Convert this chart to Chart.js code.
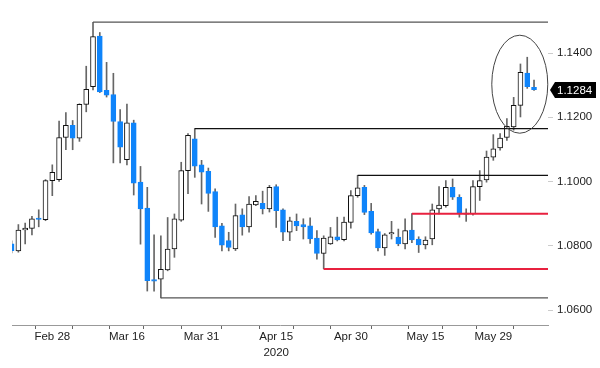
<!DOCTYPE html>
<html>
<head>
<meta charset="utf-8">
<script src="https://cdn.jsdelivr.net/npm/chart.js@4.4.0/dist/chart.umd.min.js"></script>
<style>
html, body { margin: 0; padding: 0; background: #fff; }
#wrap { width: 600px; height: 368px; }
</style>
</head>
<body>
<div id="wrap"><canvas id="fxChart"></canvas></div>
<script>
var dates = ['Feb 20','Feb 21','Feb 24','Feb 25','Feb 26','Feb 27','Feb 28',
  'Mar 2','Mar 3','Mar 4','Mar 5','Mar 6','Mar 9','Mar 10','Mar 11','Mar 12','Mar 13',
  'Mar 16','Mar 17','Mar 18','Mar 19','Mar 20','Mar 23','Mar 24','Mar 25','Mar 26','Mar 27',
  'Mar 30','Mar 31','Apr 1','Apr 2','Apr 3','Apr 6','Apr 7','Apr 8','Apr 9','Apr 10',
  'Apr 13','Apr 14','Apr 15','Apr 16','Apr 17','Apr 20','Apr 21','Apr 22','Apr 23','Apr 24',
  'Apr 27','Apr 28','Apr 29','Apr 30','May 1','May 4','May 5','May 6','May 7','May 8',
  'May 11','May 12','May 13','May 14','May 15','May 18','May 19','May 20','May 21','May 22',
  'May 25','May 26','May 27','May 28','May 29','Jun 1','Jun 2','Jun 3','Jun 4','Jun 5','Jun 8'];

var opens = [1.0806,1.0784,1.0849,1.0854,1.0886,1.0881,1.1003,
  1.1006,1.1137,1.1175,1.1135,1.1240,1.1295,1.1453,1.1284,1.1271,1.1187,
  1.1068,1.1183,1.0998,1.0917,1.0695,1.0696,1.0725,1.0790,1.0880,1.1034,
  1.1133,1.1052,1.1032,1.0969,1.0862,1.0816,1.0790,1.0896,1.0859,1.0927,
  1.0932,1.0915,1.0984,1.0912,1.0842,1.0876,1.0866,1.0862,1.0824,1.0776,
  1.0806,1.0828,1.0819,1.0873,1.0956,1.0982,1.0907,1.0844,1.0793,1.0837,
  1.0827,1.0806,1.0849,1.0821,1.0803,1.0821,1.0915,1.0925,1.0982,1.0951,
  1.0898,1.0899,1.0984,1.1005,1.1076,1.1105,1.1137,1.1170,1.1237,1.1338,1.1293];

var highs = [1.0815,1.0866,1.0871,1.0892,1.0912,1.1006,1.1052,
  1.1188,1.1215,1.1190,1.1242,1.1359,1.1496,1.1464,1.1371,1.1337,1.1224,
  1.1241,1.1191,1.1047,1.0982,1.0834,1.0831,1.0888,1.0899,1.1060,1.1149,
  1.1165,1.1066,1.1042,1.0977,1.0870,1.0842,1.0930,1.0915,1.0953,1.0956,
  1.0970,1.0988,1.0990,1.0915,1.0889,1.0899,1.0884,1.0887,1.0847,1.0831,
  1.0857,1.0889,1.0889,1.0972,1.1019,1.0988,1.0932,1.0852,1.0838,1.0876,
  1.0852,1.0884,1.0900,1.0828,1.0828,1.0930,1.0984,1.1003,1.1008,1.0959,
  1.0915,1.1003,1.1034,1.1095,1.1146,1.1149,1.1196,1.1262,1.1366,1.1387,1.1316];

var lows = [1.0778,1.0780,1.0806,1.0834,1.0859,1.0878,1.0956,
  1.1000,1.1099,1.1099,1.1125,1.1217,1.1285,1.1277,1.1263,1.1058,1.1058,
  1.1052,1.0958,1.0805,1.0659,1.0659,1.0638,1.0722,1.0764,1.0876,1.0962,
  1.1013,1.0930,1.0907,1.0826,1.0784,1.0784,1.0785,1.0833,1.0842,1.0925,
  1.0899,1.0905,1.0857,1.0816,1.0816,1.0847,1.0821,1.0807,1.0758,1.0728,
  1.0804,1.0815,1.0815,1.0855,1.0951,1.0897,1.0836,1.0784,1.0770,1.0821,
  1.0800,1.0790,1.0810,1.0779,1.0790,1.0803,1.0899,1.0920,1.0944,1.0889,
  1.0876,1.0895,1.0941,1.0998,1.1066,1.1098,1.1128,1.1160,1.1201,1.1290,1.1284];

var closes = [1.0785,1.0849,1.0855,1.0884,1.0882,1.1003,1.1029,
  1.1137,1.1175,1.1135,1.1240,1.1287,1.1451,1.1279,1.1269,1.1187,1.1107,
  1.1183,1.0995,1.0915,1.0691,1.0690,1.0727,1.0790,1.0884,1.1034,1.1144,
  1.1048,1.1029,1.0963,1.0859,1.0802,1.0795,1.0894,1.0859,1.0930,1.0938,
  1.0915,1.0982,1.0909,1.0842,1.0878,1.0862,1.0859,1.0821,1.0776,1.0824,
  1.0828,1.0818,1.0874,1.0956,1.0980,1.0904,1.0840,1.0793,1.0834,1.0841,
  1.0806,1.0847,1.0818,1.0803,1.0818,1.0912,1.0927,1.0982,1.0951,1.0899,
  1.0902,1.0984,1.1003,1.1076,1.1102,1.1135,1.1172,1.1237,1.1340,1.1295,1.1286];

var yTicks = [1.06, 1.08, 1.10, 1.12, 1.14];
var labelIdx = [6, 17, 28, 39, 50, 61, 71];
var minorIdx = [1, 12, 22, 34, 44, 56, 66, 77];
var yearIdx = 39, yearLabel = '2020';
var lastPrice = 1.1284;

// levels: [start index, price]
var blackLevels = [[12, 1.1496], [27, 1.1165], [51, 1.1019], [22, 1.0638]];
var redLevels = [[59, 1.0900], [46, 1.0728]];

var xMin = 0.06, xMax = 79.06;
var blue = '#0f84fa';
var fontFam = "'Liberation Sans', Arial, sans-serif";

var wickData = dates.map(function (d, i) { return { x: i, y: [lows[i], highs[i]] }; });
var bodyData = dates.map(function (d, i) { return { x: i, y: [opens[i], closes[i]] }; });
var isDown = dates.map(function (d, i) { return closes[i] < opens[i]; });

function levelSet(lv, color, w) {
  return {
    type: 'line',
    data: [{ x: lv[0], y: lv[1] }, { x: xMax, y: lv[1] }],
    borderColor: color,
    borderWidth: w,
    pointRadius: 0,
    order: 0
  };
}

var datasets = [];
blackLevels.forEach(function (lv, k) {
  datasets.push(levelSet(lv, k == 0 || k == 3 ? '#555' : '#111', 1.3));
});
redLevels.forEach(function (lv) {
  datasets.push(levelSet(lv, '#e8213f', 2));
});
datasets.push({
  type: 'bar',
  data: bodyData,
  grouped: false,
  barThickness: 5,
  minBarLength: 1,
  backgroundColor: isDown.map(function (d) { return d ? blue : '#fff'; }),
  borderColor: isDown.map(function (d) { return d ? blue : '#111'; }),
  borderWidth: 1,
  borderSkipped: false,
  order: 1
});
datasets.push({
  type: 'bar',
  data: wickData,
  grouped: false,
  barThickness: 1,
  backgroundColor: '#666',
  order: 2
});

// current price tag + circled area
var overlay = {
  id: 'overlay',
  afterDatasetsDraw: function (chart) {
    var ctx = chart.ctx, xs = chart.scales.x, ys = chart.scales.y;
    ctx.save();
    ctx.strokeStyle = '#444';
    ctx.lineWidth = 1;
    ctx.beginPath();
    ctx.ellipse(xs.getPixelForValue(74.9), ys.getPixelForValue(1.1303), 28, 49, 0, 0, Math.PI * 2);
    ctx.stroke();
    ctx.restore();
  },
  afterDraw: function (chart) {
    var ctx = chart.ctx, ys = chart.scales.y;
    var y = Math.round(ys.getPixelForValue(lastPrice));
    var x0 = chart.chartArea.right + 2;
    ctx.save();
    ctx.fillStyle = '#000';
    ctx.beginPath();
    ctx.moveTo(x0, y);
    ctx.lineTo(x0 + 5, y - 8);
    ctx.lineTo(596, y - 8);
    ctx.lineTo(596, y + 8);
    ctx.lineTo(x0 + 5, y + 8);
    ctx.closePath();
    ctx.fill();
    ctx.fillStyle = '#fff';
    ctx.font = '11.5px ' + fontFam;
    ctx.textBaseline = 'middle';
    ctx.fillText(lastPrice.toFixed(4), 557, y + 1);
    ctx.restore();
  }
};

var chart = new Chart(document.getElementById('fxChart'), {
  type: 'bar',
  data: { datasets: datasets },
  options: {
    responsive: true,
    maintainAspectRatio: false,
    animation: false,
    layout: { padding: { left: 12, top: 12, right: 0, bottom: 0 } },
    plugins: { legend: { display: false }, tooltip: { enabled: false } },
    scales: {
      x: {
        type: 'linear',
        min: xMin,
        max: xMax,
        offset: false,
        afterBuildTicks: function (s) {
          s.ticks = labelIdx.concat(minorIdx).sort(function (a, b) { return a - b; })
            .map(function (v) { return { value: v }; });
        },
        afterFit: function (s) { s.height = 43; },
        ticks: {
          autoSkip: false,
          maxRotation: 0,
          padding: -1,
          color: '#222',
          font: { family: fontFam, size: 11.5, lineHeight: 1.45 },
          callback: function (v) {
            if (labelIdx.indexOf(v) < 0) return '';
            return v == yearIdx ? [dates[v], yearLabel] : dates[v];
          }
        },
        grid: { drawOnChartArea: false, drawTicks: true, tickLength: 4, color: '#666' },
        border: { color: '#999' }
      },
      y: {
        position: 'right',
        min: 1.05533,
        max: 1.15278,
        afterBuildTicks: function (s) {
          s.ticks = yTicks.map(function (v) { return { value: v }; });
        },
        afterFit: function (s) { s.width = 52; },
        ticks: {
          padding: 4,
          color: '#222',
          font: { family: fontFam, size: 11.5 },
          callback: function (v) { return v.toFixed(4); }
        },
        grid: { drawOnChartArea: false, drawTicks: true, tickLength: 5, color: '#ccc' },
        border: { display: false }
      }
    }
  },
  plugins: [overlay]
});
</script>
</body>
</html>
